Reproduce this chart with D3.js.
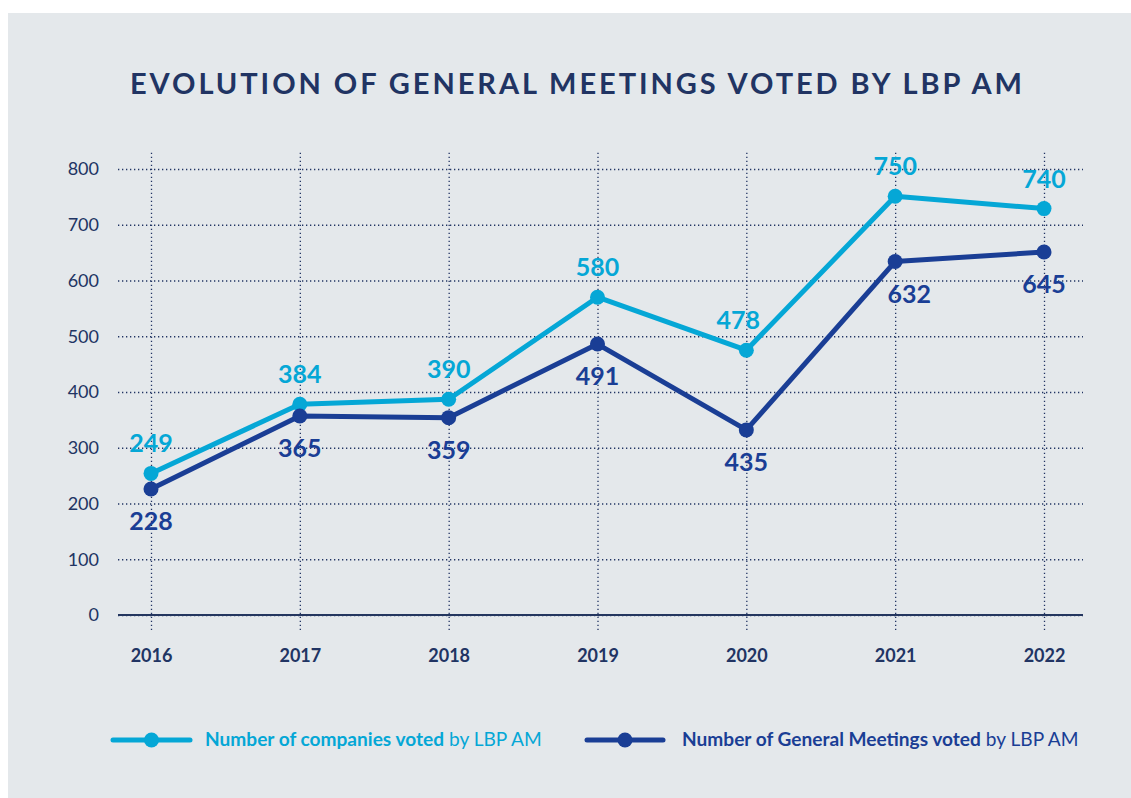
<!DOCTYPE html>
<html>
<head>
    <script src="https://cdn.jsdelivr.net/npm/d3@7"></script>
    <style>
        body { margin: 0; background: #fff; }
        svg { display: block; font-family: Lato, "Open Sans", sans-serif; }
    </style>
</head>
<body>
<div id="chart"></div>

<script>

    var years = ['2016', '2017', '2018', '2019', '2020', '2021', '2022'];
    var yTicks = [0, 100, 200, 300, 400, 500, 600, 700, 800];

    // where the points sit on the chart
    var companies = [254, 378, 387, 570, 475, 751, 729];
    var meetings = [226, 357, 354, 486, 332, 634, 651];

    // the numbers printed next to the points
    var companiesLabels = ['249', '384', '390', '580', '478', '750', '740'];
    var meetingsLabels = ['228', '365', '359', '491', '435', '632', '645'];

    var width = 1131;
    var height = 798;

    var lightBlue = '#05a7d6';
    var darkBlue = '#1a3e95';
    var navy = '#213463';

    var x = d3.scalePoint().domain(years).range([151, 1044]);
    var y = d3.scaleLinear().domain([0, 800]).range([615, 169]);

    var svg = d3.select('#chart').append('svg')
        .attr('width', width)
        .attr('height', height);

    svg.append('rect')
        .attr('x', 8).attr('y', 13)
        .attr('width', width - 8).attr('height', height - 13)
        .attr('fill', '#e4e8eb');

    // title, stretched to the width of the original
    svg.append('text')
        .attr('x', 130)
        .attr('y', 94)
        .attr('textLength', 892)
        .attr('lengthAdjust', 'spacing')
        .attr('font-size', 29)
        .attr('font-weight', 700)
        .attr('fill', navy)
        .text('EVOLUTION OF GENERAL MEETINGS VOTED BY LBP AM');

    // y axis + horizontal grid
    var yAxis = d3.axisLeft(y)
        .tickValues(yTicks)
        .tickSize(-(1083 - 118))
        .tickPadding(19);

    var gy = svg.append('g')
        .attr('transform', 'translate(118,0)')
        .call(yAxis);
    gy.select('.domain').remove();
    gy.selectAll('line')
        .attr('stroke', navy)
        .attr('stroke-width', 1.3)
        .attr('stroke-dasharray', '1.3,2.7');
    gy.selectAll('text')
        .attr('font-size', 18)
        .attr('font-weight', 400)
        .attr('font-family', 'Lato')
        .attr('fill', navy);

    // x axis + vertical grid
    var xAxis = d3.axisBottom(x)
        .tickSize(-(630 - 152))
        .tickPadding(19);

    var gx = svg.append('g')
        .attr('transform', 'translate(0,630)')
        .call(xAxis);
    gx.select('.domain').remove();
    gx.selectAll('line')
        .attr('stroke', navy)
        .attr('stroke-width', 1.3)
        .attr('stroke-dasharray', '1.3,2.7');
    gx.selectAll('text')
        .attr('font-size', 18)
        .attr('font-weight', 700)
        .attr('font-family', 'Lato')
        .attr('fill', navy);

    // baseline
    svg.append('line')
        .attr('x1', 118).attr('x2', 1083)
        .attr('y1', y(0)).attr('y2', y(0))
        .attr('stroke', '#24365f')
        .attr('stroke-width', 2);

    var line = d3.line()
        .x(function(d, i) { return x(years[i]); })
        .y(function(d) { return y(d); });

    var series = [
        { values: companies, labels: companiesLabels, color: lightBlue, above: true },
        { values: meetings, labels: meetingsLabels, color: darkBlue, above: false }
    ];

    series.forEach(function(s) {
        svg.append('path')
            .datum(s.values)
            .attr('d', line)
            .attr('fill', 'none')
            .attr('stroke', s.color)
            .attr('stroke-width', 5)
            .attr('stroke-linejoin', 'round');

        svg.selectAll(null)
            .data(s.values)
            .enter()
            .append('circle')
            .attr('cx', function(d, i) { return x(years[i]); })
            .attr('cy', function(d) { return y(d); })
            .attr('r', 7.5)
            .attr('fill', s.color);

        svg.selectAll(null)
            .data(s.values)
            .enter()
            .append('text')
            .attr('x', function(d, i) {
                // a couple of labels are nudged sideways in the original
                var shift = 0;
                if (s.above && years[i] === '2020') shift = -8;
                if (!s.above && years[i] === '2021') shift = 14;
                return x(years[i]) + shift;
            })
            .attr('y', function(d) { return s.above ? y(d) - 21 : y(d) + 41; })
            .attr('text-anchor', 'middle')
            .attr('font-size', 25)
            .attr('font-weight', 700)
            .attr('fill', s.color)
            .text(function(d, i) { return s.labels[i]; });
    });

    // legend
    var legend = [
        { bold: 'Number of companies voted', rest: ' by LBP AM', color: lightBlue, x1: 113, x2: 190, tx: 205 },
        { bold: 'Number of General Meetings voted', rest: ' by LBP AM', color: darkBlue, x1: 587, x2: 663, tx: 682 }
    ];

    legend.forEach(function(l) {
        svg.append('line')
            .attr('x1', l.x1).attr('x2', l.x2)
            .attr('y1', 740).attr('y2', 740)
            .attr('stroke', l.color)
            .attr('stroke-width', 5)
            .attr('stroke-linecap', 'round');
        svg.append('circle')
            .attr('cx', (l.x1 + l.x2) / 2)
            .attr('cy', 740)
            .attr('r', 7.5)
            .attr('fill', l.color);
        var t = svg.append('text')
            .attr('x', l.tx)
            .attr('y', 746)
            .attr('font-size', 19.1)
            .attr('fill', l.color);
        t.append('tspan').attr('font-weight', 700).text(l.bold);
        t.append('tspan').attr('font-weight', 400).text(l.rest);
    });

</script>
</body>
</html>
